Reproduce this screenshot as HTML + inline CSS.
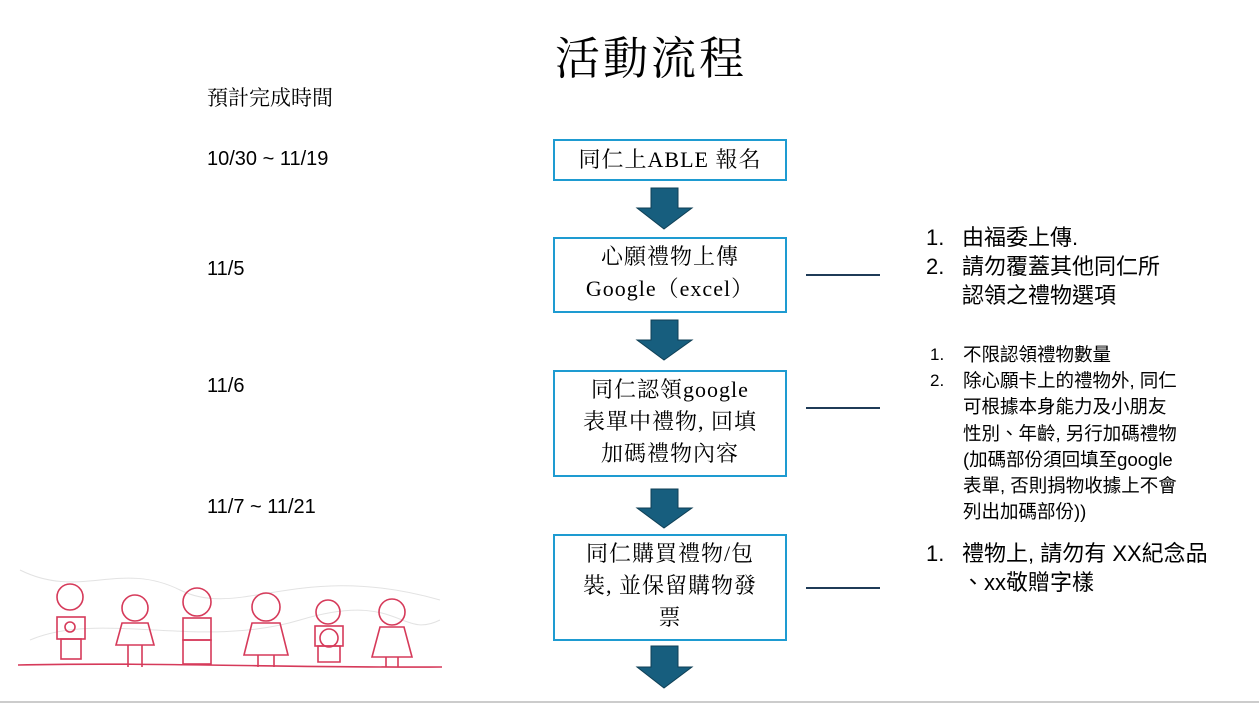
<!DOCTYPE html>
<html><head><meta charset="utf-8"><style>
body{margin:0;width:1259px;height:704px;background:#fff;position:relative;overflow:hidden;font-family:"Liberation Sans","Noto Sans CJK TC",sans-serif;color:#000}
.a{position:absolute;white-space:nowrap}
.serif{font-family:"Liberation Serif","Noto Serif CJK SC",serif}
.box{position:absolute;left:553px;width:230px;border:2px solid #1e9bd1;text-align:center;font-family:"Liberation Serif","Noto Serif CJK SC",serif;font-size:22px;line-height:32px;letter-spacing:1px;box-sizing:content-box}
.ln{position:absolute;height:2px;background:#1f3b57;left:806px;width:74px}
</style></head><body>
<div class="a serif" style="left:555px;top:22px;font-size:45px;letter-spacing:3px">活動流程</div>
<div class="a serif" style="left:207px;top:82px;font-size:21px">預計完成時間</div>
<div class="a" style="left:207px;top:148px;font-size:20px">10/30 ~ 11/19</div>
<div class="a" style="left:207px;top:258px;font-size:20px">11/5</div>
<div class="a" style="left:207px;top:375px;font-size:20px">11/6</div>
<div class="a" style="left:207px;top:496px;font-size:20px">11/7 ~ 11/21</div>

<div class="box" style="top:139px;height:38px;line-height:38px">同仁上ABLE 報名</div>
<div class="box" style="top:237px;height:70px;padding-top:2px;line-height:32px">心願禮物上傳<br>Google（excel）</div>
<div class="box" style="top:370px;height:101px;padding-top:2px">同仁認領google<br>表單中禮物, 回填<br>加碼禮物內容</div>
<div class="box" style="top:534px;height:101px;padding-top:2px">同仁購買禮物/包<br>裝, 並保留購物發<br>票</div>

<svg class="a" style="left:0;top:0" width="1259" height="704">
<g fill="#175e7e" stroke="#0f3f55" stroke-width="1">
<polygon points="651,188 678,188 678,208 692,208 664,229 637,208 651,208"/>
<polygon points="651,320 678,320 678,340 692,340 664,360 637,340 651,340"/>
<polygon points="651,489 678,489 678,508 692,508 664,528 637,508 651,508"/>
<polygon points="651,646 678,646 678,667 692,667 664,688 637,667 651,667"/>
</g>
<g stroke="#d0d0d0" stroke-width="1" fill="none" opacity="0.6">
<path d="M20,570 C80,600 120,560 180,590 S300,560 440,600"/>
<path d="M30,640 C100,610 200,650 300,620 S400,640 440,620"/>
</g>
<g stroke="#d63a5a" stroke-width="1.6" fill="none">
<path d="M18,665 C150,662 300,668 442,667"/>
<g><circle cx="70" cy="597" r="13"/><rect x="57" y="617" width="28" height="22"/><rect x="61" y="639" width="20" height="20"/><circle cx="70" cy="627" r="5"/></g>
<g><circle cx="135" cy="608" r="13"/><path d="M122,623 h26 l6,22 h-38 z"/><path d="M128,645 v22 M142,645 v22"/></g>
<g><circle cx="197" cy="602" r="14"/><rect x="183" y="618" width="28" height="22"/><rect x="183" y="640" width="28" height="24"/></g>
<g><circle cx="266" cy="607" r="14"/><path d="M252,623 h28 l8,32 h-44 z"/><path d="M258,655 v12 M274,655 v12"/></g>
<g><circle cx="328" cy="612" r="12"/><rect x="315" y="626" width="28" height="20"/><circle cx="329" cy="638" r="9"/><path d="M318,646 h22 v16 h-22 z"/></g>
<g><circle cx="392" cy="612" r="13"/><path d="M380,627 h24 l8,30 h-40 z"/><path d="M386,657 v10 M398,657 v10"/></g>
</g>
<line x1="0" y1="702" x2="1259" y2="702" stroke="#ccc" stroke-width="2"/>
</svg>

<div class="ln" style="top:274px"></div>
<div class="ln" style="top:407px"></div>
<div class="ln" style="top:587px"></div>

<div class="a" style="left:926px;top:223px;font-size:22px;line-height:29px">1.</div>
<div class="a" style="left:962px;top:223px;font-size:22px;line-height:29px">由福委上傳.</div>
<div class="a" style="left:926px;top:252px;font-size:22px;line-height:29px">2.</div>
<div class="a" style="left:962px;top:252px;font-size:22px;line-height:29px">請勿覆蓋其他同仁所<br>認領之禮物選項</div>

<div class="a" style="left:930px;top:342px;font-size:17px;line-height:26px">1.<br>2.</div>
<div class="a" style="left:963px;top:342px;font-size:18.5px;line-height:26.2px">不限認領禮物數量<br>除心願卡上的禮物外, 同仁<br>可根據本身能力及小朋友<br>性別、年齡, 另行加碼禮物<br>(加碼部份須回填至google<br>表單, 否則捐物收據上不會<br>列出加碼部份))</div>

<div class="a" style="left:926px;top:539px;font-size:22px;line-height:29px">1.</div>
<div class="a" style="left:962px;top:539px;font-size:22px;line-height:29px">禮物上, 請勿有 XX紀念品<br>、xx敬贈字樣</div>
</body></html>
